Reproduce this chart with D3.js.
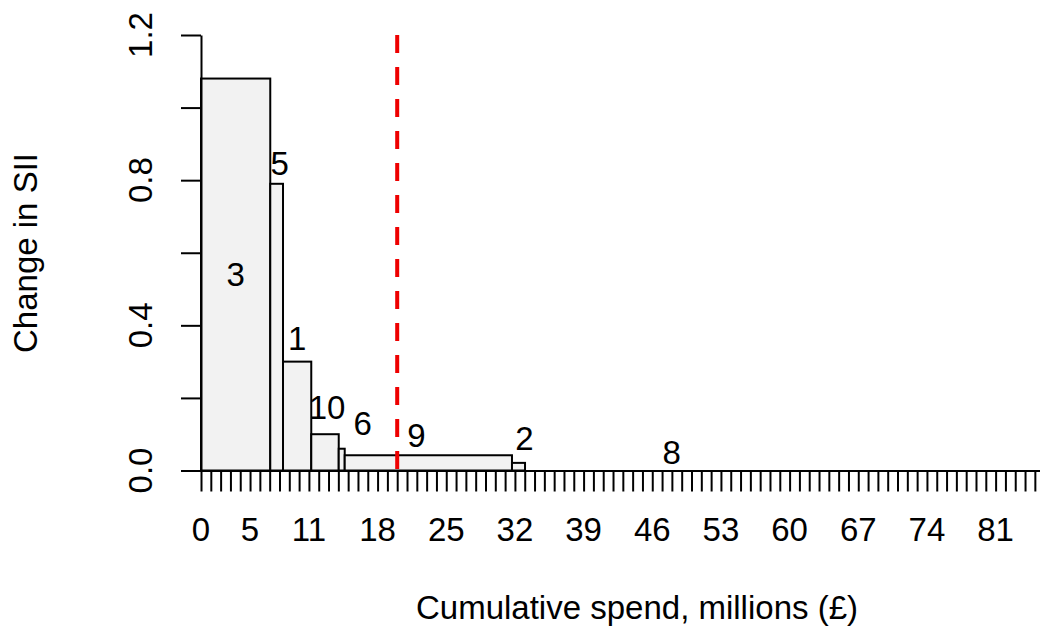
<!DOCTYPE html>
<html>
<head>
<meta charset="utf-8">
<script src="https://cdn.jsdelivr.net/npm/d3@7"></script>
<style>
  html, body { margin: 0; padding: 0; background: #fff; }
  svg { display: block; font-family: "Liberation Sans", Arial, sans-serif; }
</style>
</head>
<body>
<svg id="chart" width="1040" height="632"></svg>
<script>
// Interventions, ordered by cost-effectiveness
const interventions = ["3", "5", "1", "10", "6", "9", "2", "8"];
// Spend on each intervention, millions (£)
const spend = [7.06, 1.30, 2.88, 2.80, 0.61, 17.05, 1.33, 29.9];
// Change in SII achieved by each intervention
const changeSII = [1.08, 0.79, 0.30, 0.10, 0.06, 0.042, 0.021, 0.0];
// Budget threshold, millions (£)
const budget = [20];

// Axis ticks and labels
const xTicks = d3.range(0, 87);
const xTickLabels = [0, 5, 11, 18, 25, 32, 39, 46, 53, 60, 67, 74, 81];
const yTicks = [0, 0.2, 0.4, 0.6, 0.8, 1.0, 1.2];
const yTickLabels = [0, 0.4, 0.8, 1.2];

// Label offsets (px) from the top-centre of each bar
const labelNudge = [[0, 0], [3, -21], [0, -24], [2, -27], [21, -26], [-12, -20], [6, -25], [0, -18]];

const svg = d3.select("#chart");
const FONT = 33;

const x = d3.scaleLinear().domain([0, 86]).range([201, 201 + 86 * 9.81]);
const y = d3.scaleLinear().domain([0, 1.2]).range([470.5, 35]);

// cumulative positions
const ends = d3.cumsum(spend);
const bars = interventions.map((name, i) => ({
  name,
  x0: i === 0 ? 0 : ends[i - 1],
  x1: ends[i],
  v: changeSII[i],
  nudge: labelNudge[i]
}));

// Bars
svg.append("g").selectAll("rect").data(bars).join("rect")
  .attr("x", d => x(d.x0))
  .attr("y", d => y(d.v))
  .attr("width", d => x(d.x1) - x(d.x0))
  .attr("height", d => y(0) - y(d.v))
  .attr("fill", "#f2f2f2")
  .attr("stroke", "#000")
  .attr("stroke-width", 2);

// Bar labels
svg.append("g").selectAll("text").data(bars).join("text")
  .attr("x", d => (x(d.x0) + x(d.x1)) / 2 + d.nudge[0])
  .attr("y", (d, i) => i === 0 ? (y(0) + y(d.v)) / 2 : y(d.v) + d.nudge[1])
  .attr("dy", "0.36em")
  .attr("text-anchor", "middle")
  .attr("font-size", FONT)
  .attr("fill", "#000")
  .text(d => d.name);

// X axis
const xAxis = d3.axisBottom(x)
  .tickValues(xTicks)
  .tickSize(21)
  .tickSizeOuter(0)
  .tickFormat("");
const gx = svg.append("g").attr("transform", `translate(0,${y(0)})`).call(xAxis);
gx.select(".domain").attr("stroke", "#000").attr("stroke-width", 2);
gx.selectAll(".tick line").attr("stroke", "#000").attr("stroke-width", 2);

svg.append("g").selectAll("text").data(xTickLabels).join("text")
  .attr("x", d => x(d))
  .attr("y", 541)
  .attr("text-anchor", "middle")
  .attr("font-size", FONT)
  .text(d => d);

// Y axis
const yAxis = d3.axisLeft(y)
  .tickValues(yTicks)
  .tickSize(20)
  .tickSizeOuter(0)
  .tickFormat("");
const gy = svg.append("g").attr("transform", `translate(${x(0)},0)`).call(yAxis);
gy.select(".domain").attr("stroke", "#000").attr("stroke-width", 2);
gy.selectAll(".tick line").attr("stroke", "#000").attr("stroke-width", 2);

svg.append("g").selectAll("text").data(yTickLabels).join("text")
  .attr("transform", d => `translate(152,${y(d)}) rotate(-90)`)
  .attr("text-anchor", "middle")
  .attr("font-size", FONT)
  .text(d => d3.format(".1f")(d));

// Budget line
svg.append("g").selectAll("line").data(budget).join("line")
  .attr("x1", d => x(d)).attr("x2", d => x(d))
  .attr("y1", y(1.2)).attr("y2", y(0))
  .attr("stroke", "#ee0000")
  .attr("stroke-width", 4)
  .attr("stroke-dasharray", "18 14");

// Axis titles
svg.append("text")
  .attr("x", 637)
  .attr("y", 619)
  .attr("text-anchor", "middle")
  .attr("font-size", FONT)
  .text("Cumulative spend, millions (£)");

svg.append("text")
  .attr("transform", "translate(37,253) rotate(-90)")
  .attr("text-anchor", "middle")
  .attr("font-size", FONT)
  .text("Change in SII");
</script>
</body>
</html>
